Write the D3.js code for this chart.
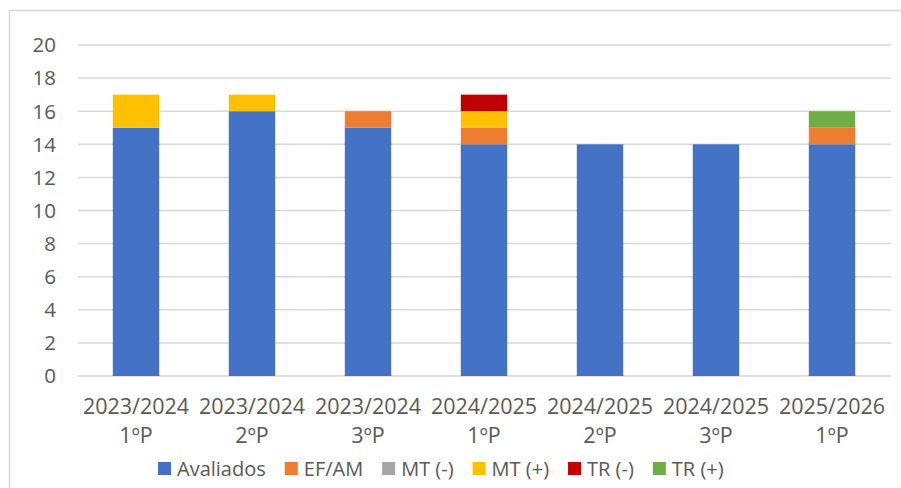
<!DOCTYPE html>
<html>
<head>
<meta charset="utf-8">
<script src="https://cdn.jsdelivr.net/npm/d3@7"></script>
<style>
  html, body { margin: 0; padding: 0; background: #fff; }
  svg { display: block; }
</style>
</head>
<body>
<svg id="chart" width="901" height="488"></svg>
<script>
// Periods on the x axis (school year, then term)
const years = ["2023/2024", "2023/2024", "2023/2024", "2024/2025", "2024/2025", "2024/2025", "2025/2026"];
const terms = ["1ºP", "2ºP", "3ºP", "1ºP", "2ºP", "3ºP", "1ºP"];

// Stacked series, bottom to top
const seriesNames = ["Avaliados", "EF/AM", "MT (-)", "MT (+)", "TR (-)", "TR (+)"];
const avaliados = [15, 16, 15, 14, 14, 14, 14];
const efam      = [0, 0, 1, 1, 0, 0, 1];
const mtMinus   = [0, 0, 0, 0, 0, 0, 0];
const mtPlus    = [2, 1, 0, 1, 0, 0, 0];
const trMinus   = [0, 0, 0, 1, 0, 0, 0];
const trPlus    = [0, 0, 0, 0, 0, 0, 1];
const yTicks = [0, 2, 4, 6, 8, 10, 12, 14, 16, 18, 20];

const colors = ["#4472C4", "#ED7D31", "#A5A5A5", "#FFC000", "#C00000", "#70AD47"];
const font = "'Open Sans', 'Noto Sans', sans-serif";
const textColor = "#595959";

const seriesValues = [avaliados, efam, mtMinus, mtPlus, trMinus, trPlus];
const rows = years.map((y, i) => {
  const r = { key: i };
  seriesNames.forEach((s, j) => { r[s] = seriesValues[j][i]; });
  return r;
});

const svg = d3.select("#chart");

// chart frame
svg.append("rect")
  .attr("x", 9.5).attr("y", 10.5)
  .attr("width", 1000).attr("height", 1000)
  .attr("fill", "none").attr("stroke", "#d9d9d9").attr("stroke-width", 1.5);

const x = d3.scaleBand()
  .domain(d3.range(years.length))
  .range([78, 890])
  .paddingInner(0.6)
  .paddingOuter(0.3);

const y = d3.scaleLinear().domain([0, 20]).range([376, 45]);

// gridlines
svg.append("g")
  .selectAll("line")
  .data(yTicks)
  .join("line")
  .attr("x1", 78).attr("x2", 891)
  .attr("y1", d => y(d)).attr("y2", d => y(d))
  .attr("stroke", "#d9d9d9").attr("stroke-width", 1.5);

// y tick labels
svg.append("g")
  .selectAll("text")
  .data(yTicks)
  .join("text")
  .attr("x", 56).attr("y", d => y(d))
  .attr("dy", "0.36em")
  .attr("text-anchor", "end")
  .attr("font-family", font).attr("font-size", 20.5)
  .attr("fill", textColor)
  .text(d => d);

// stacked bars
const stacked = d3.stack().keys(seriesNames)(rows);
svg.append("g")
  .selectAll("g")
  .data(stacked)
  .join("g")
  .attr("fill", (d, i) => colors[i])
  .selectAll("rect")
  .data(d => d)
  .join("rect")
  .attr("x", (d, i) => x(i))
  .attr("width", x.bandwidth())
  .attr("y", d => y(d[1]))
  .attr("height", d => y(d[0]) - y(d[1]));

// category labels (two lines)
const cat = svg.append("g")
  .selectAll("text")
  .data(years)
  .join("text")
  .attr("text-anchor", "middle")
  .attr("font-family", font).attr("font-size", 21.5)
  .attr("fill", textColor);
cat.append("tspan")
  .attr("x", (d, i) => x(i) + x.bandwidth() / 2)
  .attr("y", 414)
  .text(d => d);
cat.append("tspan")
  .attr("x", (d, i) => x(i) + x.bandwidth() / 2)
  .attr("y", 443)
  .text((d, i) => terms[i]);

// legend
const legend = svg.append("g");
let lx = 158;
seriesNames.forEach((name, i) => {
  legend.append("rect")
    .attr("x", lx).attr("y", 462)
    .attr("width", 13).attr("height", 13)
    .attr("fill", colors[i]);
  const t = legend.append("text")
    .attr("x", lx + 19).attr("y", 475.5)
    .attr("font-family", font).attr("font-size", 20)
    .attr("fill", textColor)
    .text(name);
  lx += 19 + t.node().getComputedTextLength() + 19;
});
</script>
</body>
</html>
